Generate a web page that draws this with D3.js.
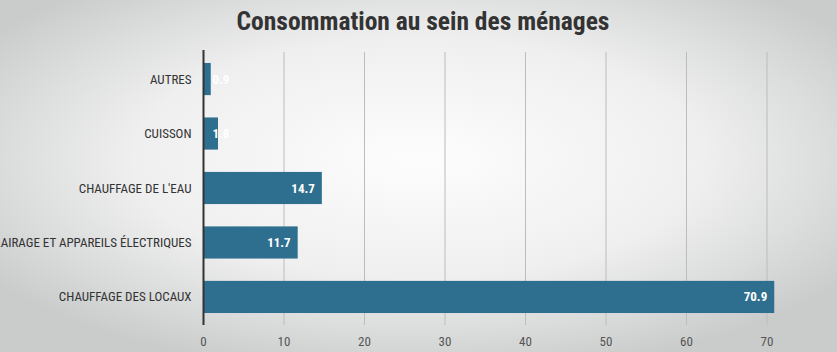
<!DOCTYPE html>
<html>
<head>
<meta charset="utf-8">
<script src="https://cdn.jsdelivr.net/npm/d3@7"></script>
<style>
  html, body { margin: 0; padding: 0; }
  body { width: 837px; height: 352px; overflow: hidden; }
  text { font-family: "Liberation Sans Narrow", "Roboto Condensed", "Liberation Sans", sans-serif; }
</style>
</head>
<body>
<div id="chart"></div>
<script>
// categories, top to bottom
var categories = ["AUTRES", "CUISSON", "CHAUFFAGE DE L'EAU", "ÉCLAIRAGE ET APPAREILS ÉLECTRIQUES", "CHAUFFAGE DES LOCAUX"];
var values = [0.9, 1.8, 14.7, 11.7, 70.9];
var xTicks = [0, 10, 20, 30, 40, 50, 60, 70];
var chartTitle = "Consommation au sein des ménages";

var W = 837, H = 352;
var margin = {top: 50, right: 70, bottom: 27, left: 203.5};

var svg = d3.select("#chart").append("svg")
    .attr("width", W)
    .attr("height", H);

//background
var defs = svg.append("defs");
var grad = defs.append("radialGradient")
    .attr("id", "bg")
    .attr("cx", "50%").attr("cy", "45%").attr("r", "62%");
grad.append("stop").attr("offset", "0%").attr("stop-color", "#fdfdfd");
grad.append("stop").attr("offset", "55%").attr("stop-color", "#efefef");
grad.append("stop").attr("offset", "100%").attr("stop-color", "#cacccc");

svg.append("rect")
    .attr("width", W).attr("height", H)
    .attr("fill", "url(#bg)");

//title
svg.append("text")
    .attr("x", 423)
    .attr("y", 30)
    .attr("text-anchor", "middle")
    .style("font-size", "25.5px")
    .style("font-weight", "bold")
    .style("fill", "#333")
    .text(chartTitle);

var x = d3.scaleLinear()
    .domain([0, 70])
    .range([margin.left, 767]);

var y = d3.scaleBand()
    .domain(categories)
    .range([margin.top + 1, H - margin.bottom])
    .paddingInner(0.41)
    .paddingOuter(0.22);

//grid lines
svg.selectAll(".grid")
    .data(xTicks.filter(function(d){ return d > 0; }))
    .enter().append("line")
    .attr("class", "grid")
    .attr("x1", function(d){ return x(d); })
    .attr("x2", function(d){ return x(d); })
    .attr("y1", margin.top + 2)
    .attr("y2", H - margin.bottom)
    .attr("stroke", "#bcbcbc")
    .attr("stroke-width", 1);

//bars
svg.selectAll(".bar")
    .data(values)
    .enter().append("rect")
    .attr("class", "bar")
    .attr("x", x(0))
    .attr("y", function(d, i){ return y(categories[i]); })
    .attr("width", function(d){ return x(d) - x(0); })
    .attr("height", y.bandwidth())
    .attr("fill", "#2e6e8e");

//value labels
svg.selectAll(".valueLabel")
    .data(values)
    .enter().append("text")
    .attr("class", "valueLabel")
    .attr("x", function(d){
        var end = x(d) - 7;
        return end < x(0) + 26 ? x(0) + 9 : end;
    })
    .attr("text-anchor", function(d){
        return x(d) - 7 < x(0) + 26 ? "start" : "end";
    })
    .attr("y", function(d, i){ return y(categories[i]) + y.bandwidth() / 2; })
    .attr("dy", "0.35em")
    .style("font-size", "13px")
    .style("font-weight", "bold")
    .style("fill", "#fff")
    .text(function(d){ return d.toFixed(1); });

//category labels
svg.selectAll(".catLabel")
    .data(categories)
    .enter().append("text")
    .attr("class", "catLabel")
    .attr("x", margin.left - 12)
    .attr("y", function(d){ return y(d) + y.bandwidth() / 2; })
    .attr("dy", "0.35em")
    .attr("text-anchor", "end")
    .style("font-size", "13px")
    .style("fill", "#333")
    .text(function(d){ return d; });

//axis line
svg.append("line")
    .attr("x1", x(0)).attr("x2", x(0))
    .attr("y1", margin.top).attr("y2", H - margin.bottom)
    .attr("stroke", "#333")
    .attr("stroke-width", 2);

//tick labels
svg.selectAll(".tickLabel")
    .data(xTicks)
    .enter().append("text")
    .attr("class", "tickLabel")
    .attr("x", function(d){ return x(d); })
    .attr("y", 341)
    .attr("dy", "0.35em")
    .attr("text-anchor", "middle")
    .style("font-size", "13px")
    .style("fill", "#555")
    .text(function(d){ return d; });
</script>
</body>
</html>
